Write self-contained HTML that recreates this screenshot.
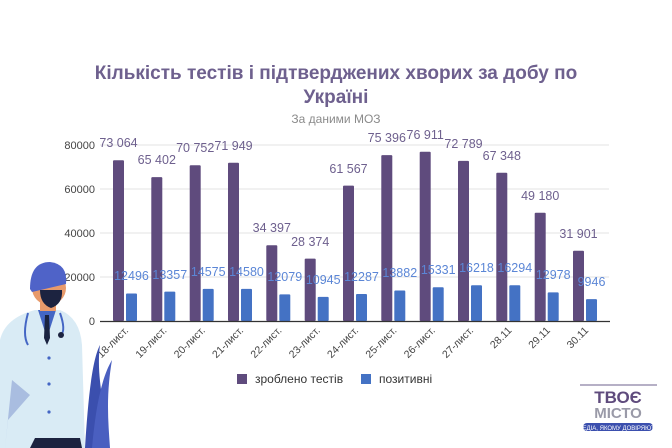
<!DOCTYPE html>
<html><head><meta charset="utf-8"><style>
html,body{margin:0;padding:0;background:#fff;}
svg{display:block;font-family:"Liberation Sans",sans-serif;}
</style></head><body>
<svg width="672" height="448" viewBox="0 0 672 448">
<rect width="672" height="448" fill="#fff"/>
<text x="336" y="79" text-anchor="middle" font-size="19" font-weight="bold" fill="#6e608e">Кількість тестів і підтверджених хворих за добу по</text>
<text x="336" y="103" text-anchor="middle" font-size="19" font-weight="bold" fill="#6e608e">Україні</text>
<text x="336" y="123" text-anchor="middle" font-size="12" fill="#8a8a8a">За даними МОЗ</text>
<g stroke="#e3e3e3" stroke-width="1">
<line x1="100" y1="145" x2="609" y2="145"/><line x1="100" y1="189" x2="609" y2="189"/><line x1="100" y1="233" x2="609" y2="233"/><line x1="100" y1="277" x2="609" y2="277"/>
</g>
<g font-size="11" fill="#444" text-anchor="end">
<text x="95" y="149">80000</text><text x="95" y="193">60000</text><text x="95" y="237">40000</text><text x="95" y="281">20000</text><text x="95" y="325">0</text>
</g>
<g fill="#5f4b7d">
<rect x="113" y="160.3" width="11" height="160.7" rx="1"/>
<rect x="151.3" y="177.1" width="11" height="143.9" rx="1"/>
<rect x="189.7" y="165.3" width="11" height="155.7" rx="1"/>
<rect x="228" y="162.7" width="11" height="158.3" rx="1"/>
<rect x="266.3" y="245.3" width="11" height="75.7" rx="1"/>
<rect x="304.7" y="258.6" width="11" height="62.4" rx="1"/>
<rect x="343" y="185.6" width="11" height="135.4" rx="1"/>
<rect x="381.3" y="155.1" width="11" height="165.9" rx="1"/>
<rect x="419.7" y="151.8" width="11" height="169.2" rx="1"/>
<rect x="458" y="160.9" width="11" height="160.1" rx="1"/>
<rect x="496.3" y="172.8" width="11" height="148.2" rx="1"/>
<rect x="534.7" y="212.8" width="11" height="108.2" rx="1"/>
<rect x="573" y="250.8" width="11" height="70.2" rx="1"/>
</g>
<g fill="#4472c4">
<rect x="126" y="293.5" width="11" height="27.5" rx="1"/>
<rect x="164.3" y="291.6" width="11" height="29.4" rx="1"/>
<rect x="202.7" y="288.9" width="11" height="32.1" rx="1"/>
<rect x="241" y="288.9" width="11" height="32.1" rx="1"/>
<rect x="279.3" y="294.4" width="11" height="26.6" rx="1"/>
<rect x="317.7" y="296.9" width="11" height="24.1" rx="1"/>
<rect x="356" y="294" width="11" height="27" rx="1"/>
<rect x="394.3" y="290.5" width="11" height="30.5" rx="1"/>
<rect x="432.7" y="287.3" width="11" height="33.7" rx="1"/>
<rect x="471" y="285.3" width="11" height="35.7" rx="1"/>
<rect x="509.3" y="285.2" width="11" height="35.8" rx="1"/>
<rect x="547.7" y="292.4" width="11" height="28.6" rx="1"/>
<rect x="586" y="299.1" width="11" height="21.9" rx="1"/>
</g>
<line x1="100" y1="321.5" x2="610" y2="321.5" stroke="#333" stroke-width="1.2"/>
<g font-size="12.5" fill="#6e608e" text-anchor="middle">
<text x="118.5" y="147">73 064</text><text x="156.8" y="164">65 402</text><text x="195.2" y="152">70 752</text><text x="233.5" y="150">71 949</text>
<text x="271.8" y="232">34 397</text><text x="310.2" y="246">28 374</text><text x="348.5" y="173">61 567</text><text x="386.8" y="142">75 396</text>
<text x="425.2" y="139">76 911</text><text x="463.5" y="148">72 789</text><text x="501.8" y="160">67 348</text><text x="540.2" y="200">49 180</text><text x="578.5" y="238">31 901</text>
</g>
<g font-size="12.5" fill="#5b86d6" text-anchor="middle">
<text x="131.5" y="280">12496</text><text x="169.8" y="279">13357</text><text x="208.2" y="276">14575</text><text x="246.5" y="276">14580</text>
<text x="284.8" y="281">12079</text><text x="323.2" y="284">10945</text><text x="361.5" y="281">12287</text><text x="399.8" y="277">13882</text>
<text x="438.2" y="274">15331</text><text x="476.5" y="272">16218</text><text x="514.8" y="272">16294</text><text x="553.2" y="279">12978</text><text x="591.5" y="286">9946</text>
</g>
<g font-size="10.5" fill="#444" text-anchor="end">
<text transform="translate(129,331) rotate(-45)">18-лист.</text>
<text transform="translate(167.3,331) rotate(-45)">19-лист.</text>
<text transform="translate(205.7,331) rotate(-45)">20-лист.</text>
<text transform="translate(244,331) rotate(-45)">21-лист.</text>
<text transform="translate(282.3,331) rotate(-45)">22-лист.</text>
<text transform="translate(320.7,331) rotate(-45)">23-лист.</text>
<text transform="translate(359,331) rotate(-45)">24-лист.</text>
<text transform="translate(397.3,331) rotate(-45)">25-лист.</text>
<text transform="translate(435.7,331) rotate(-45)">26-лист.</text>
<text transform="translate(474,331) rotate(-45)">27-лист.</text>
<text transform="translate(512.3,331) rotate(-45)">28.11</text>
<text transform="translate(550.7,331) rotate(-45)">29.11</text>
<text transform="translate(589,331) rotate(-45)">30.11</text>
</g>
<rect x="237" y="374" width="10" height="10" fill="#5f4b7d"/>
<text x="255" y="383" font-size="12" fill="#333">зроблено тестів</text>
<rect x="361" y="374" width="10" height="10" fill="#4472c4"/>
<text x="379" y="383" font-size="12" fill="#333">позитивні</text>
<!-- doctor -->
<path d="M85,448 C88,400 92,360 100,345 C96,375 104,400 108,448 Z" fill="#3b4fae"/>
<path d="M92,448 C95,415 100,380 112,360 C106,395 108,420 110,448 Z" fill="#4a5fc0"/>
<path d="M0,448 L0,340 Q5,318 35,310 L60,310 Q80,318 82,345 L85,448 Z" fill="#d9ebf5"/>
<path d="M5,448 L12,380 L30,395 L8,420 Z" fill="#a9bde0"/>
<path d="M38,310 L47,338 L56,310 Z" fill="#4466c4"/>
<path d="M45,315 L49,315 L50,338 L47,345 L44,338 Z" fill="#1a2340"/>
<rect x="40" y="295" width="16" height="16" fill="#e89a6b"/>
<ellipse cx="49" cy="288" rx="17" ry="17" fill="#e89a6b"/>
<path d="M30,289 Q30,262 50,262 Q68,264 66,284 L32,292 Z" fill="#4f63c8"/>
<path d="M40,290 L62,290 Q63,304 51,308 Q40,304 40,290 Z" fill="#1c2340"/>
<path d="M28,313 Q22,335 28,345 M60,313 Q66,330 61,335" stroke="#4466c4" stroke-width="2" fill="none"/>
<circle cx="61" cy="335" r="3" fill="#1c2340"/>
<circle cx="49" cy="358" r="1.6" fill="#4466c4"/><circle cx="49" cy="384" r="1.6" fill="#4466c4"/><circle cx="49" cy="412" r="1.6" fill="#4466c4"/>
<path d="M35,438 L80,438 L82,448 L30,448 Z" fill="#1c2340"/>
<!-- logo -->
<line x1="580" y1="385" x2="657" y2="385" stroke="#6e608e" stroke-width="1"/>
<text x="618" y="403" text-anchor="middle" font-size="17" font-weight="bold" fill="#5f4b7d">ТВОЄ</text>
<text x="618" y="418" text-anchor="middle" font-size="15" font-weight="bold" fill="#9a9aa8">МІСТО</text>
<rect x="583" y="423" width="70" height="8" rx="4" fill="#3b4fae"/>
<text x="618" y="430" text-anchor="middle" font-size="6" fill="#fff">МЕДІА, ЯКОМУ ДОВІРЯЮТЬ</text>
</svg>
</body></html>
